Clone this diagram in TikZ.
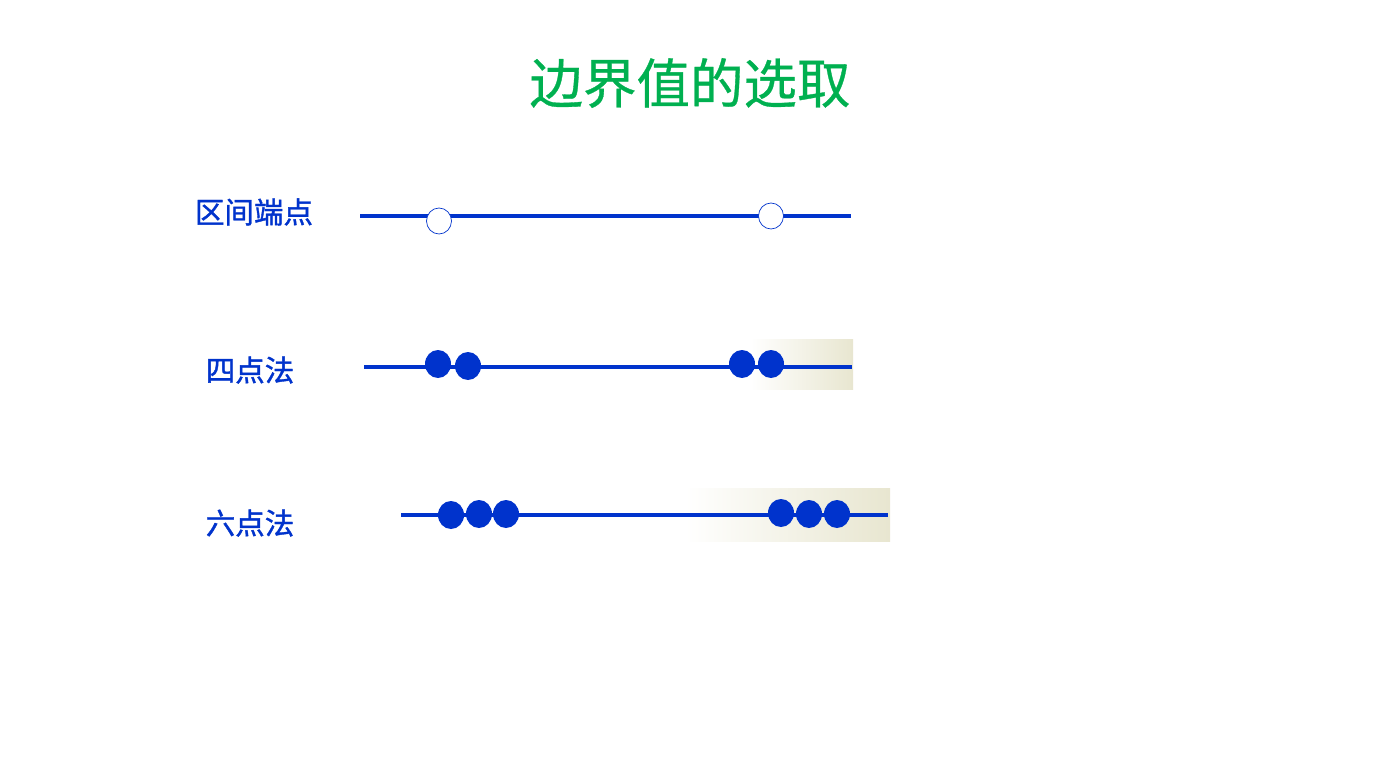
\documentclass[tikz,border=0pt]{standalone}
\usepackage{fontspec}
\usetikzlibrary{shapes.geometric}
\newfontfamily\cjk{Noto Sans CJK SC}[FakeBold=0.6]
\newfontfamily\cjkb{Noto Sans CJK SC}[FakeBold=1.2]
\definecolor{lineblue}{RGB}{0,51,204}
\definecolor{titlegreen}{RGB}{0,176,80}
\definecolor{beige}{RGB}{232,230,208}
\begin{document}
\begin{tikzpicture}[x=1pt,y=-1pt,
  axis/.style={draw=lineblue,line width=4pt},
  opendot/.style={ellipse,draw=lineblue,fill=white,line width=0.7pt,minimum width=25pt,minimum height=26pt,inner sep=0pt},
  dot/.style={ellipse,fill=lineblue,minimum width=26pt,minimum height=28pt,inner sep=0pt},
  lbl/.style={text=lineblue,font=\cjkb\fontsize{29.5}{32}\selectfont,inner sep=0pt}]
\useasboundingbox (0,0) rectangle (1380,783);
\fill[white] (0,0) rectangle (1380,783);
% faint background patches
\shade[left color=white,right color=beige] (750,339) rectangle (853,389);
\shade[left color=white,right color=beige] (685,488) rectangle (890,541);
% title
\node[text=titlegreen,font=\cjk\fontsize{53.5}{58}\selectfont,inner sep=0pt] (title) at (690,83) {边界值的选取};
% row 1
\node[lbl] (l1) at (254,212) {区间端点};
\coordinate (a1) at (360,216);
\coordinate (b1) at (851,216);
\draw[axis] (a1) -- (b1);
\node[opendot] (o1) at (439,221) {};
\node[opendot] (o2) at (771,216) {};
% row 2
\node[lbl] (l2) at (250,370) {四点法};
\coordinate (a2) at (364,367);
\coordinate (b2) at (852,367);
\draw[axis] (a2) -- (b2);
\node[dot] (d1) at (438,364) {};
\node[dot] (d2) at (468,366) {};
\node[dot] (d3) at (742,364) {};
\node[dot] (d4) at (771,364) {};
% row 3
\node[lbl] (l3) at (250,523) {六点法};
\coordinate (a3) at (401,515);
\coordinate (b3) at (888,515);
\draw[axis] (a3) -- (b3);
\node[dot] (e1) at (451,515) {};
\node[dot] (e2) at (479,514) {};
\node[dot] (e3) at (506,514) {};
\node[dot] (e4) at (781,513) {};
\node[dot] (e5) at (809,514) {};
\node[dot] (e6) at (837,514) {};
\end{tikzpicture}
\end{document}
